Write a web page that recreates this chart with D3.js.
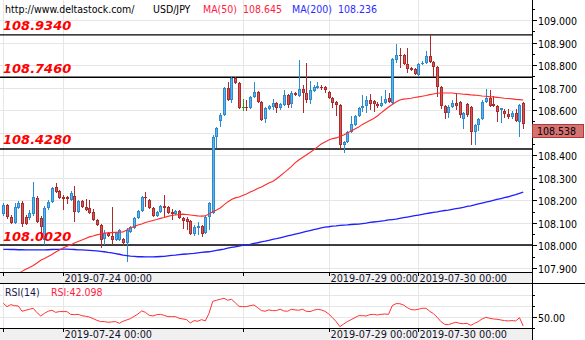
<!DOCTYPE html>
<html><head><meta charset="utf-8">
<script src="https://cdn.jsdelivr.net/npm/d3@7"></script>
<style>html,body{margin:0;padding:0;background:#fff;} svg{display:block;}</style>
</head><body>
<svg id="chart" width="585" height="340"></svg>
<script>
// USD/JPY hourly candles, 2019-07-23 08:00 .. 2019-07-31 04:00 (weekend skipped)
const sessions = [["2019-07-23",8,16],["2019-07-24",0,24],["2019-07-25",0,24],["2019-07-26",0,23],["2019-07-29",0,24],["2019-07-30",0,24],["2019-07-31",0,5]];

const open = [108.139,108.179,108.126,108.099,108.166,108.188,108.126,108.122,108.139,108.210,
108.122,108.024,108.166,108.193,108.259,108.241,108.215,108.215,108.202,108.219,
108.148,108.197,108.170,108.166,108.148,108.113,108.091,108.029,108.055,108.042,
108.024,108.024,108.029,108.011,108.060,108.077,108.122,108.153,108.215,108.202,
108.166,108.131,108.148,108.175,108.170,108.148,108.139,108.153,108.122,108.117,
108.108,108.051,108.077,108.086,108.055,108.126,108.144,108.481,108.552,108.579,
108.698,108.645,108.743,108.721,108.614,108.614,108.610,108.658,108.681,108.636,
108.561,108.605,108.614,108.632,108.610,108.623,108.667,108.627,108.676,108.663,
108.694,108.676,108.645,108.685,108.698,108.703,108.703,108.681,108.654,108.636,
108.623,108.445,108.459,108.503,108.534,108.574,108.610,108.618,108.645,108.641,
108.627,108.618,108.632,108.654,108.632,108.823,108.845,108.845,108.805,108.787,
108.783,108.756,108.805,108.809,108.840,108.814,108.791,108.703,108.618,108.587,
108.614,108.632,108.636,108.561,108.627,108.614,108.503,108.534,108.561,108.636,
108.654,108.627,108.618,108.601,108.596,108.583,108.570,108.587,108.548,108.632];

const high = [108.188,108.184,108.135,108.188,108.197,108.197,108.135,108.157,108.281,108.219,
108.131,108.175,108.202,108.259,108.277,108.246,108.224,108.219,108.241,108.264,
108.202,108.202,108.206,108.202,108.162,108.117,108.095,108.068,108.060,108.170,
108.060,108.073,108.033,108.077,108.086,108.126,108.157,108.219,108.237,108.206,
108.170,108.153,108.179,108.224,108.175,108.162,108.157,108.157,108.126,108.126,
108.113,108.091,108.104,108.091,108.131,108.193,108.490,108.525,108.587,108.703,
108.725,108.747,108.747,108.725,108.650,108.645,108.663,108.725,108.685,108.641,
108.614,108.623,108.650,108.636,108.632,108.689,108.672,108.685,108.681,108.823,
108.712,108.809,108.729,108.712,108.725,108.712,108.707,108.685,108.658,108.641,
108.627,108.463,108.508,108.574,108.579,108.614,108.667,108.663,108.672,108.645,
108.636,108.663,108.689,108.676,108.831,108.894,108.876,108.849,108.876,108.791,
108.787,108.809,108.818,108.862,108.933,108.818,108.796,108.707,108.623,108.623,
108.645,108.676,108.641,108.592,108.632,108.618,108.539,108.565,108.645,108.694,
108.689,108.663,108.623,108.610,108.605,108.605,108.596,108.605,108.627,108.636];

const low = [108.131,108.117,108.095,108.095,108.162,108.082,108.091,108.113,108.131,108.099,
108.024,108.002,108.157,108.188,108.233,108.206,108.157,108.184,108.197,108.104,
108.144,108.166,108.153,108.139,108.108,108.086,107.989,108.002,108.037,108.006,
108.020,108.020,107.997,107.926,108.055,108.073,108.117,108.148,108.170,108.162,
108.126,108.126,108.144,108.126,108.139,108.113,108.135,108.117,108.073,108.068,
108.046,108.042,108.046,108.037,108.051,108.068,108.139,108.432,108.525,108.574,
108.641,108.632,108.716,108.605,108.596,108.596,108.605,108.654,108.632,108.552,
108.543,108.601,108.601,108.587,108.601,108.618,108.610,108.610,108.663,108.658,
108.587,108.632,108.627,108.681,108.694,108.689,108.676,108.650,108.610,108.574,
108.428,108.410,108.454,108.499,108.530,108.570,108.592,108.587,108.601,108.592,
108.610,108.614,108.627,108.632,108.627,108.809,108.787,108.800,108.765,108.774,
108.756,108.752,108.800,108.805,108.809,108.747,108.658,108.605,108.561,108.565,
108.610,108.601,108.565,108.516,108.570,108.445,108.445,108.508,108.556,108.632,
108.614,108.614,108.548,108.543,108.565,108.561,108.561,108.548,108.481,108.516];

const close = [108.179,108.126,108.099,108.170,108.188,108.095,108.095,108.144,108.215,108.104,
108.082,108.166,108.193,108.255,108.237,108.210,108.206,108.206,108.233,108.148,
108.197,108.170,108.157,108.144,108.113,108.091,108.024,108.055,108.042,108.024,
108.055,108.068,108.011,108.068,108.082,108.122,108.153,108.215,108.210,108.166,
108.131,108.148,108.175,108.166,108.144,108.139,108.153,108.122,108.108,108.104,
108.051,108.082,108.086,108.051,108.126,108.188,108.481,108.521,108.579,108.698,
108.645,108.743,108.721,108.610,108.614,108.610,108.658,108.681,108.636,108.556,
108.610,108.618,108.632,108.610,108.627,108.667,108.623,108.676,108.667,108.694,
108.676,108.645,108.689,108.703,108.707,108.698,108.689,108.654,108.632,108.623,
108.445,108.459,108.503,108.539,108.574,108.610,108.618,108.645,108.627,108.627,
108.618,108.632,108.650,108.636,108.827,108.845,108.840,108.805,108.783,108.778,
108.760,108.805,108.809,108.840,108.814,108.791,108.703,108.618,108.587,108.614,
108.632,108.618,108.579,108.587,108.579,108.503,108.534,108.561,108.636,108.654,
108.618,108.618,108.592,108.610,108.583,108.570,108.587,108.552,108.623,108.538];

const ma50 = [107.838,107.847,107.856,107.865,107.874,107.885,107.894,107.902,107.911,107.922,
107.934,107.942,107.951,107.960,107.971,107.980,107.989,107.996,108.002,108.011,
108.018,108.024,108.031,108.038,108.042,108.047,108.051,108.055,108.056,108.057,
108.058,108.059,108.060,108.069,108.078,108.084,108.091,108.095,108.102,108.106,
108.111,108.115,108.120,108.124,108.129,108.133,108.135,108.137,108.139,108.137,
108.135,108.133,108.131,108.130,108.131,108.140,108.149,108.157,108.166,108.180,
108.193,108.204,108.211,108.215,108.222,108.228,108.237,108.244,108.253,108.259,
108.268,108.277,108.284,108.295,108.308,108.322,108.335,108.350,108.366,108.379,
108.390,108.401,108.412,108.424,108.437,108.450,108.459,108.468,108.474,108.477,
108.483,108.490,108.499,108.508,108.517,108.525,108.537,108.545,108.554,108.563,
108.574,108.588,108.601,108.614,108.625,108.636,108.645,108.649,108.651,108.653,
108.656,108.659,108.662,108.665,108.669,108.672,108.675,108.676,108.676,108.676,
108.676,108.674,108.673,108.671,108.670,108.668,108.667,108.665,108.663,108.662,
108.660,108.659,108.657,108.655,108.653,108.652,108.650,108.648,108.647,108.645];

const ma200 = [107.983,107.983,107.982,107.982,107.981,107.981,107.980,107.980,107.980,107.980,
107.980,107.980,107.981,107.982,107.983,107.983,107.984,107.984,107.983,107.982,
107.980,107.980,107.979,107.978,107.977,107.976,107.974,107.972,107.969,107.967,
107.964,107.961,107.957,107.955,107.953,107.952,107.950,107.950,107.949,107.949,
107.949,107.950,107.951,107.952,107.954,107.956,107.957,107.959,107.961,107.962,
107.964,107.965,107.967,107.969,107.971,107.972,107.975,107.978,107.981,107.984,
107.988,107.991,107.994,107.997,108.000,108.003,108.005,108.009,108.012,108.016,
108.019,108.023,108.027,108.030,108.034,108.038,108.042,108.046,108.050,108.054,
108.058,108.062,108.066,108.070,108.074,108.078,108.081,108.083,108.086,108.087,
108.089,108.090,108.091,108.093,108.094,108.095,108.097,108.099,108.102,108.104,
108.106,108.108,108.110,108.113,108.115,108.117,108.120,108.123,108.126,108.129,
108.132,108.135,108.138,108.141,108.144,108.147,108.149,108.152,108.155,108.157,
108.160,108.163,108.166,108.169,108.173,108.176,108.180,108.184,108.188,108.192,
108.196,108.200,108.204,108.208,108.212,108.216,108.221,108.225,108.231,108.236];

const rsi14 = [62.7,59.7,61.5,60.6,60.3,55.5,56.4,57.3,58.2,54.2,
51.2,53.6,55.5,56.4,54.5,55.2,55.2,55.2,52.7,52.4,
52.7,51.5,50.9,50.3,48.8,47.3,46.1,46.1,45.5,45.8,
46.1,44.5,46.4,47.6,48.8,50.9,53.0,55.8,54.5,51.8,
51.2,52.4,52.7,51.8,50.6,50.6,50.6,49.1,48.5,47.9,
44.8,47.0,46.4,47.9,46.7,53.6,64.5,65.5,66.4,67.3,
65.5,66.4,63.3,60.0,59.7,59.7,60.6,61.2,58.8,56.1,
55.5,56.7,56.1,56.1,57.3,55.8,55.5,57.3,56.7,56.4,
57.3,55.5,55.2,56.4,57.3,56.7,55.5,53.0,49.7,46.1,
41.5,43.9,46.1,47.9,49.7,51.5,51.5,51.2,52.4,52.7,
52.1,52.7,53.0,52.7,60.6,62.4,62.4,61.2,58.8,57.0,
56.7,57.3,58.2,58.2,55.5,53.3,50.0,46.1,43.6,43.3,
44.5,45.5,44.5,44.2,44.5,42.7,44.5,46.1,48.5,50.0,
49.1,48.5,48.2,47.6,47.0,46.7,47.0,46.7,49.7,42.098];

// horizontal support / resistance levels
const levels = [108.934, 108.746, 108.428, 108.002];
// axis ticks
const priceTicks = [107.9,108.0,108.1,108.2,108.3,108.4,108.5,108.6,108.7,108.8,108.9,109.0];
const priceMinorTicks = [107.95,108.05,108.15,108.25,108.35,108.45,108.55,108.65,108.75,108.85,108.95,109.05];
const rsiTicks = [40,50,60,70];
const rsiLabelTicks = [50];
const timeGrid = ["2019-07-23 08:00","2019-07-24 00:00","2019-07-26 00:00","2019-07-29 00:00","2019-07-30 00:00"];
const timeLabels = ["2019-07-24 00:00","2019-07-29 00:00","2019-07-30 00:00"];

const symbol = "USD/JPY";
const site = "http://www.deltastock.com/";

// ---- build hourly categories ----
const times = [];
sessions.forEach(([day, h0, n]) => {
  for (let h = h0; h < h0 + n; h++) times.push(day + " " + String(h).padStart(2, "0") + ":00");
});
const bars = times.map((t, i) => ({t, o: open[i], h: high[i], l: low[i], c: close[i]}));

// ---- layout ----
const W = 585, plotR = 532;
const mainBot = 272, bandBot = 283, rsiBot = 328, H = 340;

const x = d3.scalePoint().domain(times).range([3.3, 523.2]);
const y = d3.scaleLinear().domain([107.9, 109.0]).range([268, 20]);
const yR = d3.scaleLinear().domain([40, 70]).range([328.3, 295.3]);

const svg = d3.select("#chart");
const FONT = "'DejaVu Sans Condensed','DejaVu Sans',sans-serif";

const defs = svg.append("defs");
defs.append("clipPath").attr("id", "clipMain").append("rect").attr("x", 0).attr("y", 0).attr("width", plotR).attr("height", mainBot);
defs.append("clipPath").attr("id", "clipRsi").append("rect").attr("x", 0).attr("y", bandBot).attr("width", plotR).attr("height", rsiBot - bandBot);

svg.append("rect").attr("width", W).attr("height", H).attr("fill", "#fff");

// label bands under each panel
[[mainBot, bandBot], [rsiBot, H]].forEach(([a, b]) => {
  svg.append("rect").attr("x", 0).attr("y", a).attr("width", plotR).attr("height", b - a).attr("fill", "#f0f0f0");
});

const grid = svg.append("g").attr("stroke", "#e6e6e6").attr("stroke-width", 1).attr("shape-rendering", "crispEdges");
priceTicks.forEach(v => {
  const yy = Math.round(y(v)) + 0.5;
  grid.append("line").attr("x1", 0).attr("x2", plotR).attr("y1", yy).attr("y2", yy);
});
[50, 60, 70].forEach(v => {
  const yy = Math.round(yR(v)) + 0.5;
  grid.append("line").attr("x1", 0).attr("x2", plotR).attr("y1", yy).attr("y2", yy);
});
timeGrid.forEach(t => {
  const xx = Math.round(x(t)) + 0.5;
  grid.append("line").attr("x1", xx).attr("x2", xx).attr("y1", 0).attr("y2", mainBot);
  grid.append("line").attr("x1", xx).attr("x2", xx).attr("y1", bandBot).attr("y2", rsiBot);
});

// level lines
const lv = svg.append("g").attr("clip-path", "url(#clipMain)");
levels.forEach(v => {
  lv.append("line").attr("x1", 0).attr("x2", plotR).attr("y1", y(v)).attr("y2", y(v))
    .attr("stroke", "#000").attr("stroke-width", 1.4);
});

// candles
const BLUE_D = "#2a8bd0", BLUE_L = "#5db3ea", RED_D = "#ad2a2a", RED_L = "#d05a5a", DOJI = "#1e9a1e";
const cg = svg.append("g").attr("clip-path", "url(#clipMain)").attr("shape-rendering", "crispEdges");
bars.forEach(b => {
  const cx = Math.round(x(b.t));
  const up = b.c > b.o, flat = b.c === b.o;
  const dark = flat ? DOJI : (up ? BLUE_D : RED_D);
  const light = flat ? DOJI : (up ? BLUE_L : RED_L);
  const yh = Math.round(y(b.h)), yl = Math.round(y(b.l));
  cg.append("rect").attr("x", cx).attr("y", yh).attr("width", 1).attr("height", Math.max(1, yl - yh)).attr("fill", dark);
  const top = Math.round(y(Math.max(b.o, b.c))), bot = Math.round(y(Math.min(b.o, b.c)));
  const hgt = Math.max(1, bot - top);
  cg.append("rect").attr("x", cx - 1).attr("y", top).attr("width", 3).attr("height", hgt).attr("fill", dark);
  if (hgt > 2) cg.append("rect").attr("x", cx).attr("y", top + 1).attr("width", 1).attr("height", hgt - 2).attr("fill", light);
});

// moving averages
const lineMain = arr => d3.line().x((d, i) => x(times[i])).y(d => y(d))(arr);
const mg = svg.append("g").attr("clip-path", "url(#clipMain)").attr("fill", "none");
mg.append("path").attr("d", lineMain(ma200)).attr("stroke", "#1f1fff").attr("stroke-width", 1.3);
mg.append("path").attr("d", lineMain(ma50)).attr("stroke", "#ff2a2a").attr("stroke-width", 1.1);

// level captions
levels.forEach(v => {
  svg.append("text").attr("x", 3).attr("y", y(v) - 4.5).text(d3.format(".4f")(v))
    .attr("font-family", "'DejaVu Sans',sans-serif").attr("font-size", 13).attr("font-weight", "bold")
    .attr("font-style", "italic").attr("fill", "#ff0000");
});

// RSI line
svg.append("path").attr("clip-path", "url(#clipRsi)")
  .attr("d", d3.line().x((d, i) => x(times[i])).y(d => yR(d))(rsi14))
  .attr("fill", "none").attr("stroke", "#ff3333").attr("stroke-width", 1);

// frame lines
const fr = svg.append("g").attr("stroke", "#000").attr("stroke-width", 1).attr("shape-rendering", "crispEdges");
fr.append("line").attr("x1", 0).attr("x2", plotR).attr("y1", mainBot + 0.5).attr("y2", mainBot + 0.5);
fr.append("line").attr("x1", 0).attr("x2", W).attr("y1", bandBot + 0.5).attr("y2", bandBot + 0.5);
fr.append("line").attr("x1", 0).attr("x2", plotR).attr("y1", rsiBot + 0.5).attr("y2", rsiBot + 0.5);
fr.append("line").attr("x1", plotR + 0.5).attr("x2", plotR + 0.5).attr("y1", 0).attr("y2", H);

// time ticks and labels in both bands
[[mainBot + 1, 282], [rsiBot + 1, 338]].forEach(([t0, base]) => {
  timeGrid.forEach(t => {
    const xx = Math.round(x(t)) + 0.5;
    fr.append("line").attr("x1", xx).attr("x2", xx).attr("y1", t0).attr("y2", t0 + 3);
  });
  timeLabels.forEach(t => {
    svg.append("text").attr("x", Math.round(x(t)) + 1.5).attr("y", base).text(t)
      .attr("font-family", FONT).attr("font-size", 10.8).attr("fill", "#10102a");
  });
});

// last price marker geometry (the axis label it covers is not drawn)
const last = close[close.length - 1];
const ly = Math.round(y(last));

// right price axis
const ax = svg.append("g").attr("font-family", FONT).attr("font-size", 10.5).attr("fill", "#000");
priceTicks.forEach(v => {
  const yy = Math.round(y(v)) + 0.5;
  fr.append("line").attr("x1", plotR).attr("x2", plotR + 5).attr("y1", yy).attr("y2", yy);
  if (yy + 5 < ly || yy - 5 > ly + 14) ax.append("text").attr("x", plotR + 6).attr("y", yy + 4).text(d3.format(".3f")(v));
});
priceMinorTicks.forEach(v => {
  const yy = Math.round(y(v)) + 0.5;
  fr.append("line").attr("x1", plotR).attr("x2", plotR + 3).attr("y1", yy).attr("y2", yy);
});
rsiTicks.forEach(v => {
  const yy = Math.round(yR(v)) + 0.5;
  fr.append("line").attr("x1", plotR).attr("x2", plotR + (rsiLabelTicks.includes(v) ? 5 : 3)).attr("y1", yy).attr("y2", yy);
});
rsiLabelTicks.forEach(v => {
  ax.append("text").attr("x", plotR + 6).attr("y", Math.round(yR(v)) + 4.5).text(d3.format(".2f")(v));
});

// last price marker
const mk = svg.append("g");
mk.append("rect").attr("x", plotR + 0.5).attr("y", ly + 0.5).attr("width", 51).attr("height", 13)
  .attr("fill", "#d57272").attr("stroke", "#b03838").attr("stroke-width", 1);
mk.append("text").attr("x", plotR + 5).attr("y", ly + 11).text(d3.format(".3f")(last))
  .attr("font-family", FONT).attr("font-size", 10.5).attr("fill", "#000");

// header
const hd = svg.append("g").attr("font-family", FONT).attr("font-size", 10.5);
hd.append("text").attr("x", 5).attr("y", 13).text(site).attr("fill", "#000");
hd.append("text").attr("x", 153).attr("y", 13).text(symbol).attr("fill", "#000");
hd.append("text").attr("x", 203).attr("y", 13).text("MA(50)").attr("fill", "#ff2040");
hd.append("text").attr("x", 243).attr("y", 13).text(d3.format(".3f")(ma50[ma50.length - 1])).attr("fill", "#ff2040");
hd.append("text").attr("x", 292).attr("y", 13).text("MA(200)").attr("fill", "#2b2bff");
hd.append("text").attr("x", 338).attr("y", 13).text(d3.format(".3f")(ma200[ma200.length - 1])).attr("fill", "#2b2bff");

// RSI header
hd.append("text").attr("x", 5).attr("y", 296).text("RSI(14)").attr("fill", "#1a1a4a");
hd.append("text").attr("x", 51).attr("y", 296).text("RSI:" + d3.format(".3f")(rsi14[rsi14.length - 1])).attr("fill", "#ff2040");
</script>
</body></html>
